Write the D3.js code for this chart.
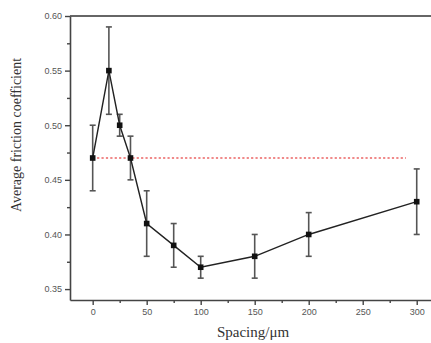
<!DOCTYPE html>
<html>
<head>
<meta charset="utf-8">
<script src="https://cdn.jsdelivr.net/npm/d3@7"></script>
<style>
html,body{margin:0;padding:0;background:#fff;}
svg{display:block;}
</style>
</head>
<body>
<svg id="chart" width="431" height="343"></svg>
<script>
const spacing = [0, 15, 25, 35, 50, 75, 100, 150, 200, 300];
const friction = [0.47, 0.55, 0.50, 0.47, 0.41, 0.39, 0.37, 0.38, 0.40, 0.43];
const errLow = [0.44, 0.51, 0.49, 0.45, 0.38, 0.37, 0.36, 0.36, 0.38, 0.40];
const errHigh = [0.50, 0.59, 0.51, 0.49, 0.44, 0.41, 0.38, 0.40, 0.42, 0.46];
const refValue = 0.47;
const refRange = [0, 290];
const xTicks = [0, 50, 100, 150, 200, 250, 300];
const xMinor = [25, 75, 125, 175, 225, 275];
const yTicks = [0.35, 0.40, 0.45, 0.50, 0.55, 0.60];
const yMinor = [0.375, 0.425, 0.475, 0.525, 0.575];

const svg = d3.select("#chart");
const mLeft = 70, mRight = 434, mTop = 16, mBottom = 300;
const x = d3.scaleLinear().domain([-21, 316]).range([mLeft, mRight]);
const y = d3.scaleLinear().domain([0.34, 0.60]).range([mBottom, mTop]);

const axisColor = "#444";

// Frame
svg.append("line").attr("x1", mLeft).attr("x2", 431).attr("y1", mTop).attr("y2", mTop)
  .attr("stroke", "#666").attr("stroke-width", 2.2);

// X axis
const gx = svg.append("g").attr("transform", `translate(0,${mBottom})`);
gx.call(d3.axisBottom(x).tickValues(xTicks).tickFormat(d3.format("d")).tickSize(5).tickSizeOuter(0));
gx.append("g").call(d3.axisBottom(x).tickValues(xMinor).tickFormat("").tickSize(3).tickSizeOuter(0))
  .select(".domain").remove();
gx.selectAll(".domain").attr("stroke", axisColor).attr("stroke-width", 1.6);
gx.selectAll(".tick line").attr("stroke", axisColor).attr("stroke-width", 1.4);
gx.selectAll(".tick text").attr("font-family", "Liberation Sans, Arial, sans-serif")
  .attr("font-size", 9).attr("fill", "#555").attr("dy", "0.8em");

// Y axis
const gy = svg.append("g").attr("transform", `translate(${mLeft},0)`);
gy.call(d3.axisLeft(y).tickValues(yTicks).tickFormat(d3.format(".2f")).tickSize(5).tickSizeOuter(0));
gy.append("g").call(d3.axisLeft(y).tickValues(yMinor).tickFormat("").tickSize(3).tickSizeOuter(0))
  .select(".domain").remove();
gy.selectAll(".domain").attr("stroke", axisColor).attr("stroke-width", 1.6);
gy.selectAll(".tick line").attr("stroke", axisColor).attr("stroke-width", 1.4);
gy.selectAll(".tick text").attr("font-family", "Liberation Sans, Arial, sans-serif")
  .attr("font-size", 9).attr("fill", "#555");

// Reference dotted line
svg.append("line")
  .attr("x1", x(refRange[0])).attr("x2", x(refRange[1]))
  .attr("y1", y(refValue)).attr("y2", y(refValue))
  .attr("stroke", "#f08a8a").attr("stroke-width", 2.2)
  .attr("stroke-dasharray", "2.2,2.2");

const data = spacing.map((s, i) => ({s, v: friction[i], lo: errLow[i], hi: errHigh[i]}));

// Error bars
const eb = svg.append("g").attr("stroke", "#555").attr("stroke-width", 1.6);
data.forEach(d => {
  eb.append("line").attr("x1", x(d.s)).attr("x2", x(d.s)).attr("y1", y(d.lo)).attr("y2", y(d.hi));
  eb.append("line").attr("x1", x(d.s) - 3).attr("x2", x(d.s) + 3).attr("y1", y(d.lo)).attr("y2", y(d.lo));
  eb.append("line").attr("x1", x(d.s) - 3).attr("x2", x(d.s) + 3).attr("y1", y(d.hi)).attr("y2", y(d.hi));
});

// Line
svg.append("path").datum(data)
  .attr("fill", "none").attr("stroke", "#222").attr("stroke-width", 1.4)
  .attr("d", d3.line().x(d => x(d.s)).y(d => y(d.v)));

// Markers
svg.append("g").selectAll("rect").data(data).join("rect")
  .attr("x", d => x(d.s) - 2.8).attr("y", d => y(d.v) - 2.8)
  .attr("width", 5.6).attr("height", 5.6).attr("fill", "#111");

// Axis labels
svg.append("text").attr("x", 253).attr("y", 337).attr("text-anchor", "middle")
  .attr("font-family", "Liberation Serif, Times New Roman, serif").attr("font-size", 15)
  .attr("fill", "#333").text("Spacing/μm");
svg.append("text").attr("transform", "translate(21,135) rotate(-90)").attr("text-anchor", "middle")
  .attr("font-family", "Liberation Serif, Times New Roman, serif").attr("font-size", 14)
  .attr("fill", "#333").text("Average friction coefficient");
</script>
</body>
</html>
